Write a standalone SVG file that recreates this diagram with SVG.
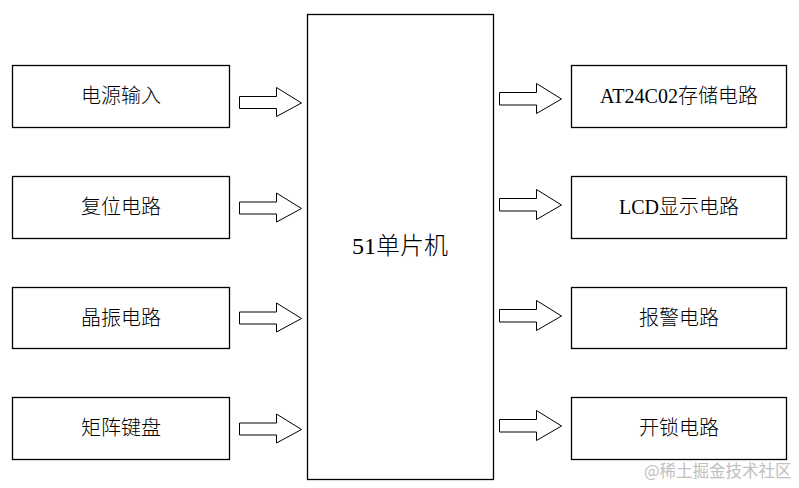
<svg xmlns="http://www.w3.org/2000/svg" width="799" height="488" viewBox="0 0 799 488">
<style>
.box{fill:#fff;stroke:#000;stroke-width:1.3}
.arr{fill:#fff;stroke:#000;stroke-width:1}
.t{font-family:"Liberation Serif","Noto Sans CJK SC",serif;font-size:20px;font-weight:300;fill:#000;text-anchor:middle}
.wm{font-family:"Noto Sans CJK SC",sans-serif;font-size:16.5px;fill:#c0c0c0}
</style>
<defs>
<path id="la" d="M239.5,96.5 H276.5 V87.5 L301.5,103 L276.5,116.5 V108.5 H239.5 Z"/>
<path id="ra" d="M499.5,92.5 H536.5 V83.5 L561.5,99 L536.5,113.5 V105 H499.5 Z"/>
</defs>
<rect width="799" height="488" fill="#fff"/>
<g id="mcu">
<rect class="box" x="307.5" y="14.5" width="186" height="465"/>
<text class="t" x="400" y="253.5" style="font-size:24px">51单片机</text>
</g>
<g id="in1"><rect class="box" x="12.5" y="65.5" width="217" height="62"/><text class="t" x="121" y="103">电源输入</text></g>
<g id="in2"><rect class="box" x="12.5" y="176.5" width="217" height="62"/><text class="t" x="121" y="214">复位电路</text></g>
<g id="in3"><rect class="box" x="12.5" y="287.5" width="217" height="61"/><text class="t" x="121" y="325">晶振电路</text></g>
<g id="in4"><rect class="box" x="12.5" y="397.5" width="217" height="62"/><text class="t" x="121" y="435">矩阵键盘</text></g>
<g id="out1"><rect class="box" x="571.5" y="65.5" width="215" height="62"/><text class="t" x="679" y="103">AT24C02存储电路</text></g>
<g id="out2"><rect class="box" x="571.5" y="176.5" width="215" height="62"/><text class="t" x="679" y="214">LCD显示电路</text></g>
<g id="out3"><rect class="box" x="571.5" y="287.5" width="215" height="61"/><text class="t" x="679" y="325">报警电路</text></g>
<g id="out4"><rect class="box" x="571.5" y="397.5" width="215" height="62"/><text class="t" x="679" y="435">开锁电路</text></g>
<g id="connectors">
<use href="#la" class="arr"/>
<use href="#la" class="arr" y="105.5"/>
<use href="#la" class="arr" y="215.5"/>
<use href="#la" class="arr" y="326.5"/>
<use href="#ra" class="arr"/>
<use href="#ra" class="arr" y="106"/>
<use href="#ra" class="arr" y="217"/>
<use href="#ra" class="arr" y="327"/>
</g>
<text class="wm" x="644" y="477">@稀土掘金技术社区</text>
</svg>
